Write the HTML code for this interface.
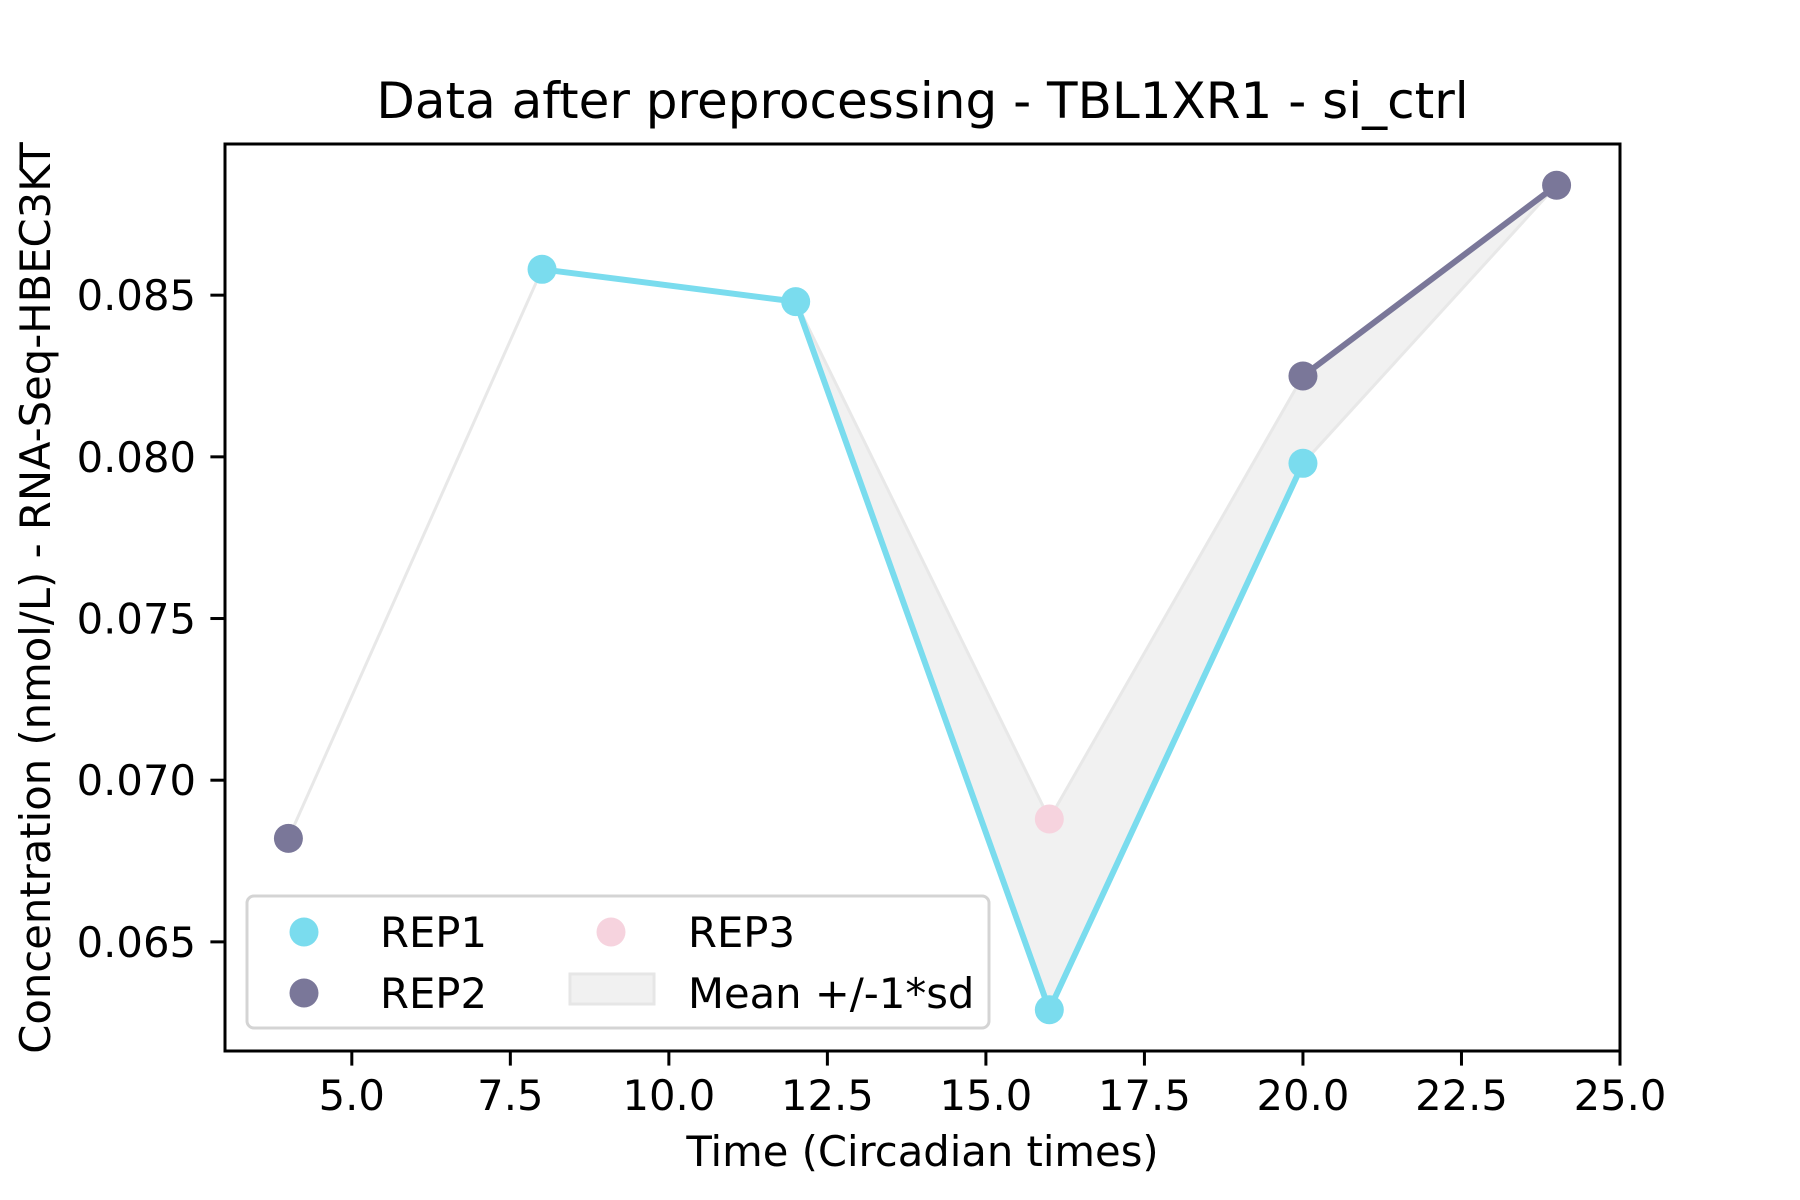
<!DOCTYPE html>
<html><head><meta charset="utf-8"><style>
html,body{margin:0;padding:0;background:#fff;}
svg{display:block;font-family:"DejaVu Sans","Liberation Sans",sans-serif;}
</style></head><body>
<svg id="chart" width="1800" height="1200" viewBox="0 0 1800 1200" xmlns="http://www.w3.org/2000/svg">
<rect width="1800" height="1200" fill="#fff"/>
<text x="922.5" y="118" font-size="50" text-anchor="middle" fill="#000">Data after preprocessing - TBL1XR1 - si_ctrl</text>
<g id="band-layer"></g>
<g id="line-layer"></g>
<g id="point-layer"></g>
<rect x="225" y="144" width="1395" height="907" fill="none" stroke="#000" stroke-width="3"/>
<g id="xticks"></g>
<g id="yticks"></g>
<text x="922.5" y="1166" font-size="41.7" text-anchor="middle">Time (Circadian times)</text>
<text transform="translate(50,598) rotate(-90)" font-size="41.7" text-anchor="middle">Concentration (nmol/L) - RNA-Seq-HBEC3KT</text>
<g>
<rect x="247" y="896" width="742" height="132" rx="7" fill="#fff" fill-opacity="0.8" stroke="#d4d4d4" stroke-width="3"/>
<circle cx="304" cy="932" r="14.5" fill="#7adcee"/>
<text x="380" y="947" font-size="41.7">REP1</text>
<circle cx="304" cy="993" r="14.5" fill="#7a7799"/>
<text x="380" y="1008" font-size="41.7">REP2</text>
<circle cx="611" cy="932" r="14.5" fill="#f6d3de"/>
<text x="688" y="947" font-size="41.7">REP3</text>
<rect x="570" y="974" width="84" height="30" fill="#f1f1f1" stroke="#e6e6e6" stroke-width="3"/>
<text x="688" y="1008" font-size="41.7">Mean +/-1*sd</text>
</g>
</svg>
<script>
const times = [4, 8, 12, 16, 20, 24];
const rep1 = [null, 0.0858, 0.0848, 0.0629, 0.0798, null];
const rep2 = [0.0682, null, null, null, 0.0825, 0.0884];
const rep3 = [null, null, null, 0.0688, null, null];
const bandUpper = [0.0682, 0.0858, 0.0848, 0.0688, 0.0825, 0.0884];
const bandLower = [0.0682, 0.0858, 0.0848, 0.0629, 0.0798, 0.0884];
const xTicks = [5.0, 7.5, 10.0, 12.5, 15.0, 17.5, 20.0, 22.5, 25.0];
const xTickLabels = ["5.0","7.5","10.0","12.5","15.0","17.5","20.0","22.5","25.0"];
const yTicks = [0.065, 0.070, 0.075, 0.080, 0.085];
const yTickLabels = ["0.065","0.070","0.075","0.080","0.085"];

const NS = "http://www.w3.org/2000/svg";
const X0 = 225, X1 = 1620, Y0 = 144, Y1 = 1051;
const xMin = 3, xMax = 25, yMin = 0.061625, yMax = 0.089675;
function xs(v){ return X0 + (v - xMin) / (xMax - xMin) * (X1 - X0); }
function ys(v){ return Y1 - (v - yMin) / (yMax - yMin) * (Y1 - Y0); }
function mk(tag, attrs){ const e = document.createElementNS(NS, tag); for (const k in attrs) e.setAttribute(k, attrs[k]); return e; }

const bandLayer = document.getElementById('band-layer');
let d = '';
times.forEach((t,i)=>{ d += (i?'L':'M') + xs(t) + ',' + ys(bandUpper[i]); });
for (let i = times.length-1; i >= 0; i--) d += 'L' + xs(times[i]) + ',' + ys(bandLower[i]);
d += 'Z';
const band = mk('path', {d: d, fill: '#efefef', 'fill-opacity': '0.9', stroke: '#e8e8e8', 'stroke-width': '3', 'stroke-linejoin': 'round'});


bandLayer.appendChild(band);

const series = [
  {name: 'rep1', vals: rep1, color: '#7adcee'},
  {name: 'rep2', vals: rep2, color: '#7a7799'},
  {name: 'rep3', vals: rep3, color: '#f6d3de'}
];
const lineLayer = document.getElementById('line-layer');
const pointLayer = document.getElementById('point-layer');
series.forEach(s => {
  for (let i = 0; i < times.length - 1; i++) {
    if (s.vals[i] !== null && s.vals[i+1] !== null) {
      const ln = mk('line', {x1: xs(times[i]), y1: ys(s.vals[i]), x2: xs(times[i+1]), y2: ys(s.vals[i+1]), stroke: s.color, 'stroke-width': '6', 'stroke-linecap': 'round'});
      
      
      lineLayer.appendChild(ln);
    }
  }
});
series.forEach(s => {
  s.vals.forEach((v, i) => {
    if (v === null) return;
    const c = mk('circle', {cx: xs(times[i]), cy: ys(v), r: 14.5, fill: s.color});
    
    
    pointLayer.appendChild(c);
  });
});

const xg = document.getElementById('xticks');
xTicks.forEach((t, i) => {
  const x = xs(t);
  const tk = mk('line', {x1: x, y1: Y1, x2: x, y2: Y1 + 14.6, stroke: '#000', 'stroke-width': '3'});
  
  
  xg.appendChild(tk);
  const tx = mk('text', {x: x, y: 1110, 'font-size': '41.7', 'text-anchor': 'middle'});
  tx.textContent = xTickLabels[i];
  
  
  xg.appendChild(tx);
});
const yg = document.getElementById('yticks');
yTicks.forEach((t, i) => {
  const y = ys(t);
  const tk = mk('line', {x1: X0 - 14.6, y1: y, x2: X0, y2: y, stroke: '#000', 'stroke-width': '3'});
  
  
  yg.appendChild(tk);
  const tx = mk('text', {x: 196, y: y + 15, 'font-size': '41.7', 'text-anchor': 'end'});
  tx.textContent = yTickLabels[i];
  
  
  yg.appendChild(tx);
});
</script>
</body></html>
